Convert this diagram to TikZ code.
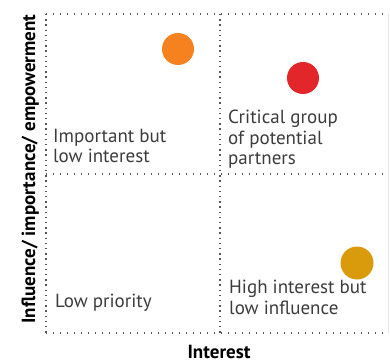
\documentclass[tikz,border=0pt]{standalone}
\usepackage{fontspec}
\setmainfont{PT Sans}
\definecolor{txtgray}{HTML}{3C3C3C}
\definecolor{dotgray}{HTML}{555555}
\definecolor{corange}{HTML}{F5821F}
\definecolor{cred}{HTML}{E3262A}
\definecolor{cgold}{HTML}{D99A0B}
\begin{document}
\begin{tikzpicture}[x=1pt,y=-1pt,
  hdots/.style={dotgray,line width=1.4pt,dash pattern=on 1.4pt off 5.6pt},
  vdots/.style={dotgray,line width=1.4pt,dash pattern=on 1.4pt off 3.8pt},
  quadtext/.style={anchor=base west,align=left,text=txtgray,font=\fontsize{19}{20.5}\selectfont,inner sep=0pt},
  axislabel/.style={font=\fontsize{19}{22}\selectfont\bfseries,text=black,inner sep=0pt},
  dot/.style={circle,minimum size=32pt,inner sep=0pt}]
\useasboundingbox (0,0) rectangle (390,363);
% grid
\coordinate (tl) at (46,14);
\coordinate (tr) at (388,14);
\coordinate (ml) at (46,174);
\coordinate (mr) at (388,174);
\coordinate (bl) at (46,333);
\coordinate (br) at (388,333);
\coordinate (tm) at (220,14);
\coordinate (bm) at (220,333);
\draw[hdots] (tl) -- (tr);
\draw[hdots] (ml) -- (mr);
\draw[hdots] (bl) -- (br);
\draw[vdots] (tl) -- (bl);
\draw[vdots] (tm) -- (bm);
\draw[gray!20,line width=0.6pt] (tr) -- (br);
% dots
\node[dot,fill=corange] (o) at (178,49) {};
\node[dot,fill=cred] (r) at (303,78) {};
\node[dot,fill=cgold,minimum size=33pt] (g) at (357,263) {};
% texts (base = baseline of last line)
\node[quadtext] (q1) at (53,163) {Important but\\low interest};
\node[quadtext] (q2) at (228,165) {Critical group\\of potential\\partners};
\node[quadtext] (q3) at (55,307) {Low priority};
\node[quadtext] (q4) at (229,314) {High interest but\\low influence};
\node[axislabel,anchor=base] (xl) at (219,358) {Interest};
\node[axislabel,rotate=90,anchor=base] (yl) at (35,169) {Influence/ importance/ empowerment};
\end{tikzpicture}
\end{document}
